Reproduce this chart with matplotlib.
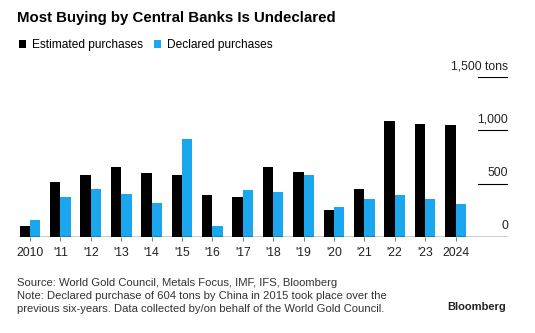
import matplotlib.pyplot as plt
import numpy as np

years = ["2010", "'11", "'12", "'13", "'14", "'15", "'16", "'17", "'18", "'19",
         "'20", "'21", "'22", "'23", "2024"]
estimated = [101, 519, 585, 657, 604, 582, 396, 377, 660, 610, 252, 453, 1088, 1060, 1053]
declared = [160, 377, 453, 406, 321, 921, 101, 437, 421, 585, 280, 352, 396, 358, 308]
yticks = [0, 500, 1000, 1500]
ylabels = ["0", "500", "1,000", "1,500 tons"]

plt.rcParams['font.family'] = ['Liberation Sans', 'DejaVu Sans']

W, H = 535, 333
fig = plt.figure(figsize=(W / 100, H / 100), dpi=100)
ax = fig.add_axes([19 / W, 1 - 237 / H, 489 / W, 160 / H])

x = np.arange(len(years))
bw = 0.34
b1 = ax.bar(x - bw / 2, estimated, bw, color='black', label='Estimated purchases')
b2 = ax.bar(x + bw / 2, declared, bw, color='#1aa7ee', label='Declared purchases')

ax.set_xlim(-0.362, 15.727)
ax.set_ylim(0, 1500)
for s in ax.spines.values():
    s.set_visible(False)
ax.axhline(0, color='black', lw=1)
gx = (478 - 19) / 489
for t, lab in zip(yticks, ylabels):
    if t > 0:
        ax.axhline(t, xmin=gx, xmax=1, color='black', lw=0.8)
    ax.text(1.0, t + 45, lab, transform=ax.get_yaxis_transform(), ha='right',
            va='bottom', fontsize=8.8, color='#222222')
ax.set_yticks([])
ax.set_xticks(x)
ax.set_xticklabels(years, fontsize=8.7, color='#222222')
ax.tick_params(axis='x', length=3, width=0.6, color='#666666', pad=4)

fig.text(17 / W, 1 - 18 / H, "Most Buying by Central Banks Is Undeclared",
         fontsize=10.8, fontweight='bold', va='center')
fig.legend(handles=[b1, b2], loc='center left', bbox_to_anchor=(14 / W, 1 - 45 / H),
           ncol=2, frameon=False, fontsize=8.6, handlelength=0.6, handleheight=0.6,
           handletextpad=0.5, columnspacing=0.9, borderaxespad=0)

fig.text(17 / W, 1 - 283 / H, "Source: World Gold Council, Metals Focus, IMF, IFS, Bloomberg",
         fontsize=8.1, color='#333333', va='center')
fig.text(17 / W, 1 - 296 / H,
         "Note: Declared purchase of 604 tons by China in 2015 took place over the",
         fontsize=8.1, color='#333333', va='center')
fig.text(17 / W, 1 - 308.5 / H,
         "previous six-years. Data collected by/on behalf of the World Gold Council.",
         fontsize=8.1, color='#333333', va='center')
fig.text(506 / W, 1 - 307 / H, "Bloomberg", fontsize=8, fontweight='bold',
         ha='right', va='center', color='#222222')

fig.savefig("out.png", dpi=100)
